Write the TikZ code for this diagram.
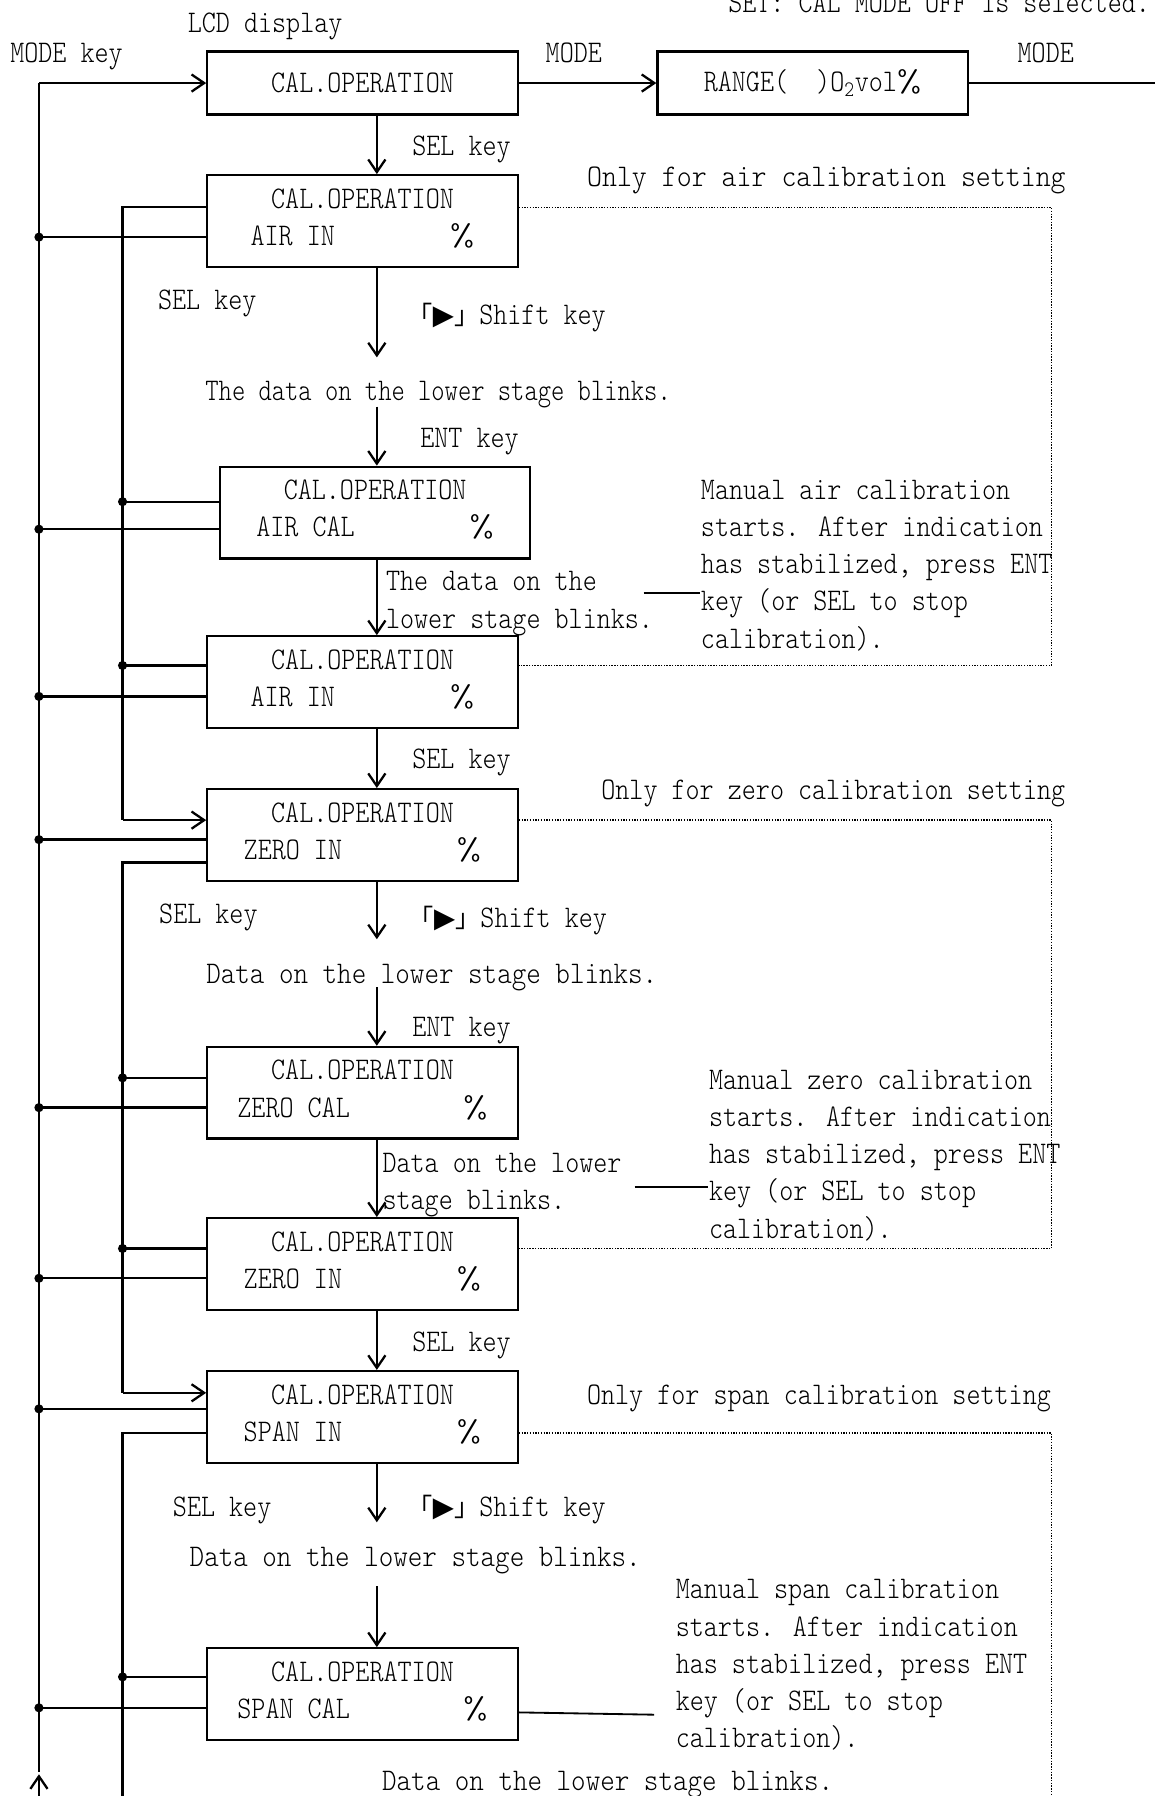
\documentclass[tikz,border=0pt]{standalone}
\usepackage{fontspec}
\usepackage{graphicx}
\usetikzlibrary{arrows.meta}
\newfontfamily\lcdfont{lmmonolt10-regular.otf}[FakeStretch=0.85]
\newfontfamily\cjk{Noto Sans CJK SC}
\newfontfamily\symfont{DejaVu Sans}
\newcommand{\pct}{\scalebox{1.75}[1]{\%}}
\newcommand{\shiftkey}{{\cjk\fontsize{22}{22}\selectfont 「}{\symfont\fontsize{24}{24}\selectfont ▶}{\cjk\fontsize{22}{22}\selectfont 」}Shift key}

\begin{document}
\begin{tikzpicture}[x=1pt,y=-1pt,
  line width=2pt,
  >={Straight Barb[length=11pt,width=15pt]},
  every node/.style={font=\lcdfont\fontsize{27.5}{32.5}\selectfont, inner sep=0pt},
  lcdone/.style={draw, minimum width=271pt, minimum height=55pt},
  lcdtwo/.style={draw, minimum width=271pt, minimum height=80pt, align=center, text depth=7pt},
  lbl/.style={anchor=base west},
  mid/.style={anchor=base},
  note/.style={anchor=north west, align=left},
  dotline/.style={line width=1.2pt, dash pattern=on 1.2pt off 1.2pt}]
\useasboundingbox (0,0) rectangle (1008,1568);

% LCD boxes
\draw (316.5,72.5) node[lcdone](b1) {CAL.OPERATION};
\draw (709.5,72.5) node[lcdone](rng) {RANGE(~~)O\textsubscript{2}vol\pct};
\draw (316.5,193) node[lcdtwo](b2) {CAL.OPERATION\\\makebox[174pt][l]{AIR IN}\pct};
\draw (327.5,447.5) node[lcdtwo](b3) {CAL.OPERATION\\\makebox[186pt][l]{AIR CAL}\pct};
\draw (316.5,595.5) node[lcdtwo](b4) {CAL.OPERATION\\\makebox[174pt][l]{AIR IN}\pct};
\draw (316.5,729) node[lcdtwo](b5) {CAL.OPERATION\\\makebox[186pt][l]{ZERO IN}\pct};
\draw (316.5,954) node[lcdtwo](b6) {CAL.OPERATION\\\makebox[197pt][l]{ZERO CAL}\pct};
\draw (316.5,1103.5) node[lcdtwo](b7) {CAL.OPERATION\\\makebox[186pt][l]{ZERO IN}\pct};
\draw (316.5,1237) node[lcdtwo](b8) {CAL.OPERATION\\\makebox[186pt][l]{SPAN IN}\pct};
\draw (316.5,1479) node[lcdtwo](b9) {CAL.OPERATION\\\makebox[197pt][l]{SPAN CAL}\pct};

% labels
\draw (163,28) node[lbl](lcd) {LCD display};
\draw (8,55) node[lbl](modekey) {MODE key};
\draw (501,55) node[mid](mode1) {MODE};
\draw (913,55) node[mid](mode2) {MODE};
\draw (1005,11) node[anchor=base east](offnote) {SET: CAL MODE OFF is selected.};
\draw (359,136) node[lbl](sel1) {SEL key};
\draw (721.5,163) node[mid](onlyair) {\scalebox{1.064}[1]{Only for air calibration setting}};
\draw (137,270) node[lbl](sel2) {SEL key};
\draw (355,283) node[lbl](shift1) {\shiftkey};
\draw (382.5,350) node[mid](blink1) {\scalebox{0.946}[1]{The data on the lower stage blinks.}};
\draw (366,391) node[lbl](ent1) {ENT key};
\draw (336,498) node[note](blink2) {The data on the\\lower stage blinks.};
\draw (611,418) node[note](airnote) {Manual air calibration\\starts. After indication\\has stabilized, press ENT\\key (or SEL to stop\\calibration).};
\draw (359,671) node[lbl](sel3) {SEL key};
\draw (727.5,698) node[mid](onlyzero) {Only for zero calibration setting};
\draw (138,806) node[lbl](sel4) {SEL key};
\draw (356,810) node[lbl](shift2) {\shiftkey};
\draw (377,859) node[mid](blink3) {\scalebox{1.035}[1]{Data on the lower stage blinks.}};
\draw (359,905) node[lbl](ent2) {ENT key};
\draw (333,1006) node[note](blink4) {Data on the lower\\stage blinks.};
\draw (618,933) node[note](zeronote) {Manual zero calibration\\starts. After indication\\has stabilized, press ENT\\key (or SEL to stop\\calibration).};
\draw (359,1180) node[lbl](sel5) {SEL key};
\draw (715,1226) node[mid](onlyspan) {Only for span calibration setting};
\draw (150,1324) node[lbl](sel6) {SEL key};
\draw (355,1324) node[lbl](shift3) {\shiftkey};
\draw (362.5,1368) node[mid](blink5) {\scalebox{1.035}[1]{Data on the lower stage blinks.}};
\draw (589,1378) node[note](spannote) {Manual span calibration\\starts. After indication\\has stabilized, press ENT\\key (or SEL to stop\\calibration).};
\draw (530.5,1563) node[mid](blink6) {\scalebox{1.035}[1]{Data on the lower stage blinks.}};

% MODE key row
\coordinate (rend) at (1008,72.5);
\draw[->] (b1) -- (rng);
\draw (rng) -- (rend);

% down arrows
\coordinate (ax) at (329,0);
\coordinate (c1) at (329,312);
\coordinate (c2) at (329,355);
\coordinate (c3) at (329,820);
\coordinate (c4) at (329,862);
\coordinate (c5) at (329,1329);
\coordinate (c6) at (329,1385);
\draw[->] (b1.south -| ax) -- (b2.north -| ax);
\draw[->] (b2.south -| ax) -- (c1);
\draw[->] (c2) -- (b3.north -| ax);
\draw[->] (b3.south -| ax) -- (b4.north -| ax);
\draw[->] (b4.south -| ax) -- (b5.north -| ax);
\draw[->] (b5.south -| ax) -- (c3);
\draw[->] (c4) -- (b6.north -| ax);
\draw[->] (b6.south -| ax) -- (b7.north -| ax);
\draw[->] (b7.south -| ax) -- (b8.north -| ax);
\draw[->] (b8.south -| ax) -- (c5);
\draw[->] (c6) -- (b9.north -| ax);

% MODE key bus
\coordinate (m0) at (34,72.5);
\coordinate (mend) at (34,1547);
\coordinate (mbot) at (34,1568);
\coordinate (mtip) at (34,1549);
\draw[->] (m0) -- (b1.west);
\draw (m0) -- (mend);
\draw[->] (mbot) -- (mtip);
\coordinate (m2) at (34,207);
\coordinate (m3) at (34,462);
\coordinate (m4) at (34,608);
\coordinate (m5) at (34,733);
\coordinate (m6) at (34,967);
\coordinate (m7) at (34,1116);
\coordinate (m8) at (34,1230);
\coordinate (m9) at (34,1491);
\draw (m2) -- (m2 -| b2.west);
\draw (m3) -- (m3 -| b3.west);
\draw (m4) -- (m4 -| b4.west);
\draw (m5) -- (m5 -| b5.west);
\draw (m6) -- (m6 -| b6.west);
\draw (m7) -- (m7 -| b7.west);
\draw (m8) -- (m8 -| b8.west);
\draw (m9) -- (m9 -| b9.west);
\fill (m2) circle[radius=4pt];
\fill (m3) circle[radius=4pt];
\fill (m4) circle[radius=4pt];
\fill (m5) circle[radius=4pt];
\fill (m6) circle[radius=4pt];
\fill (m7) circle[radius=4pt];
\fill (m8) circle[radius=4pt];
\fill (m9) circle[radius=4pt];

% SEL key bus
\coordinate (i1) at (107,181);
\coordinate (i1e) at (107,716);
\coordinate (i3) at (107,438);
\coordinate (i4) at (107,581);
\draw (b2.west |- i1) -- (i1) -- (i1e);
\draw[->] (i1e) -- (b5.west |- i1e);
\draw (i3) -- (i3 -| b3.west);
\draw (i4) -- (i4 -| b4.west);
\fill (i3) circle[radius=4pt];
\fill (i4) circle[radius=4pt];
\coordinate (i5) at (107,753);
\coordinate (i5e) at (107,1216);
\coordinate (i6) at (107,941);
\coordinate (i7) at (107,1090);
\draw (b5.west |- i5) -- (i5) -- (i5e);
\draw[->] (i5e) -- (b8.west |- i5e);
\draw (i6) -- (i6 -| b6.west);
\draw (i7) -- (i7 -| b7.west);
\fill (i6) circle[radius=4pt];
\fill (i7) circle[radius=4pt];
\coordinate (i8) at (107,1251);
\coordinate (i8e) at (107,1568);
\coordinate (i9) at (107,1464);
\draw (b8.west |- i8) -- (i8) -- (i8e);
\draw (i9) -- (i9 -| b9.west);
\fill (i9) circle[radius=4pt];

% setting frames
\coordinate (fa) at (918,581);
\coordinate (fz) at (918,1090);
\coordinate (fs) at (918,1568);
\draw[dotline] (b2.east |- 0,181) -| (fa) -- (fa -| b4.east);
\draw[dotline] (b5.east |- 0,716) -| (fz) -- (fz -| b7.east);
\draw[dotline] (b8.east |- 0,1251) -| (fs);

% note leaders
\coordinate (la) at (562,518);
\coordinate (lz) at (554,1036);
\coordinate (ls) at (571,1497);
\draw[line width=1.6pt] (la) -- (la -| airnote.west);
\draw[line width=1.6pt] (lz) -- (lz -| zeronote.west);
\draw[line width=1.6pt] (b9.east |- 0,1495) -- (ls);
\end{tikzpicture}
\end{document}
